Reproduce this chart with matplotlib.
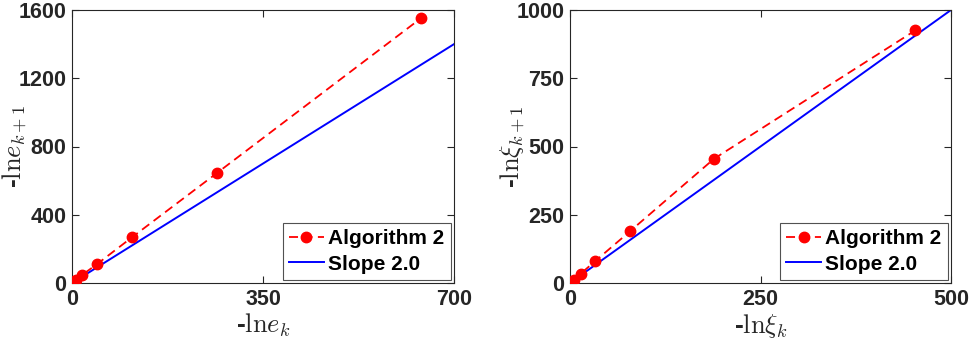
import matplotlib
matplotlib.use("Agg")
import matplotlib.pyplot as plt

TXT = "#262626"

# left panel: -ln e_k vs -ln e_{k+1}
e_x = [2, 7, 18, 46, 110, 265, 640]
e_y = [5, 17, 46, 111, 268, 643, 1553]
e_slope_x = [0, 700]
e_slope_y = [0, 1400]
e_xticks = [0, 350, 700]
e_yticks = [0, 400, 800, 1200, 1600]

# right panel: -ln xi_k vs -ln xi_{k+1}
xi_x = [2, 5, 14, 33, 79, 189, 453]
xi_y = [5, 12, 34, 80, 190, 455, 925]
xi_slope_x = [0, 500]
xi_slope_y = [0, 1000]
xi_xticks = [0, 250, 500]
xi_yticks = [0, 250, 500, 750, 1000]

plt.rcParams["font.family"] = "Liberation Sans"
plt.rcParams["font.weight"] = "bold"
plt.rcParams["mathtext.fontset"] = "cm"

fig = plt.figure(figsize=(9.69, 3.39), dpi=100)
W, H = 969, 339
ax1 = fig.add_axes([72 / W, 1 - 283 / H, 382 / W, 273 / H])
ax2 = fig.add_axes([570 / W, 1 - 283 / H, 381 / W, 273 / H])

panels = [
    (ax1, e_x, e_y, e_slope_x, e_slope_y, e_xticks, e_yticks,
     r"-$\mathrm{ln}e_{k}$", r"-$\mathrm{ln}e_{k+1}$"),
    (ax2, xi_x, xi_y, xi_slope_x, xi_slope_y, xi_xticks, xi_yticks,
     r"-$\mathrm{ln}\xi_{k}$", r"-$\mathrm{ln}\xi_{k+1}$"),
]

for ax, x, y, sx, sy, xt, yt, xl, yl in panels:
    ax.plot(x, y, "--", color="red", marker="o", markersize=7.5,
            linewidth=1.3, dashes=(5, 3), label="Algorithm 2", zorder=3)
    ax.plot(sx, sy, "-", color="blue", linewidth=1.4, label="Slope 2.0",
            zorder=2)
    ax.set_xlim(xt[0], xt[-1])
    ax.set_ylim(yt[0], yt[-1])
    ax.set_xticks(xt)
    ax.set_yticks(yt)
    ax.tick_params(direction="in", top=True, right=True, length=5,
                   width=0.8, colors=TXT, labelsize=15.5, pad=4)
    for lab in ax.get_xticklabels() + ax.get_yticklabels():
        lab.set_fontweight("bold")
    for sp in ax.spines.values():
        sp.set_color(TXT)
        sp.set_linewidth(0.8)
    ax.set_xlabel(xl, fontsize=19, color=TXT, fontweight="bold")
    ax.set_ylabel(yl, fontsize=19, color=TXT, fontweight="bold")
    ax.xaxis.set_label_coords(0.5, -0.105)
    ax.yaxis.set_label_coords(-0.112, 0.5)
    leg = ax.legend(loc="lower right", fontsize=15, frameon=True,
                    fancybox=False, edgecolor=TXT, borderaxespad=0.15,
                    handlelength=1.7, handletextpad=0.2, borderpad=0.3,
                    labelspacing=0.3)
    leg.get_frame().set_linewidth(0.8)
    for t in leg.get_texts():
        t.set_fontweight("bold")
        t.set_color("black")

fig.savefig("out.png", dpi=100)
